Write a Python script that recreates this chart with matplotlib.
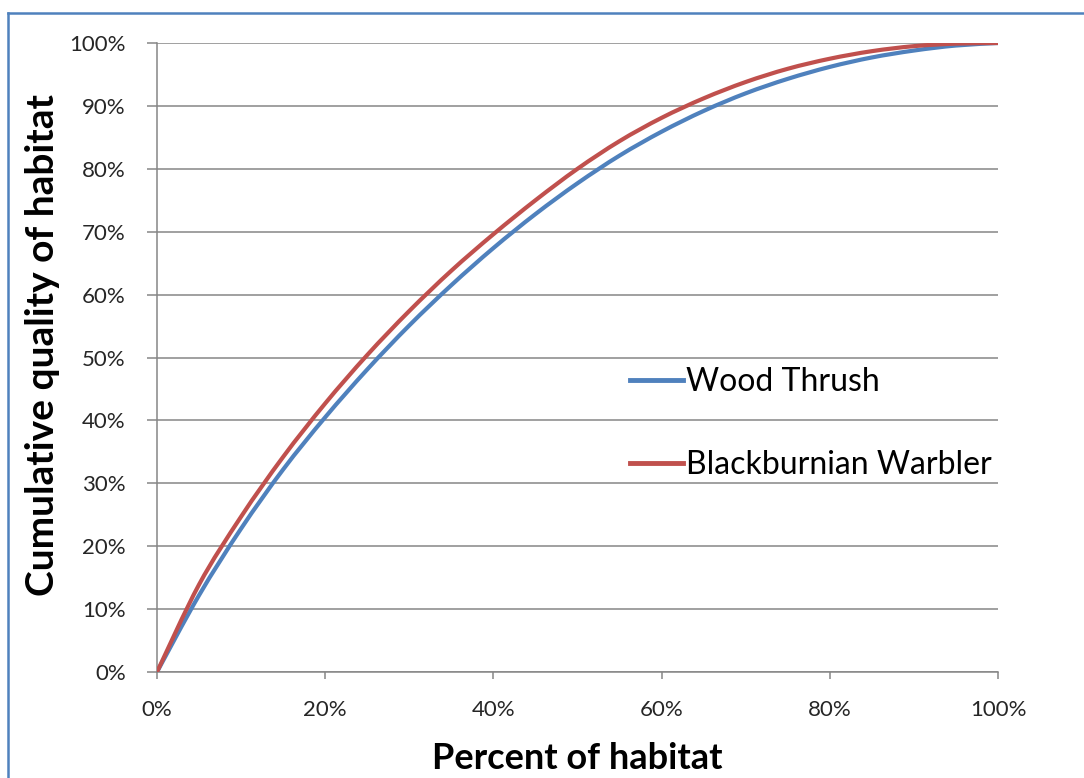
import numpy as np
import matplotlib.pyplot as plt
from matplotlib.lines import Line2D
from matplotlib.path import Path
from matplotlib.patches import PathPatch
from matplotlib.ticker import PercentFormatter

plt.rcParams['font.family'] = ['Lato', 'DejaVu Sans']

# percent of habitat (x) and cumulative habitat quality (y), in %
habitat = [0, 5, 10, 15, 20, 25, 30, 35, 40, 45, 50,
           55, 60, 65, 70, 75, 80, 85, 90, 95, 100]
wood_thrush = [0, 12.2, 22.8, 32.2, 40.5, 48.1, 55.1, 61.5, 67.4, 72.8, 77.7,
               82.1, 85.9, 89.2, 92.0, 94.3, 96.2, 97.7, 98.8, 99.6, 100]
blackburnian = [0, 13.9, 24.7, 34.2, 42.7, 50.4, 57.4, 63.8, 69.6, 75.0, 80.0,
                84.4, 88.1, 91.2, 93.8, 95.9, 97.5, 98.7, 99.5, 99.9, 100]

x_ticks = [0, 20, 40, 60, 80, 100]
y_ticks = [0, 10, 20, 30, 40, 50, 60, 70, 80, 90, 100]

grey = '#868686'
blue = '#4F81BD'
red = '#C0504D'


def smooth_path(x, y):
    # smoothed line through the points (Catmull-Rom turned into cubic Beziers)
    p = np.column_stack([x, y]).astype(float)
    verts = [p[0]]
    codes = [Path.MOVETO]
    for i in range(len(p) - 1):
        p0 = p[i - 1] if i > 0 else p[i]
        p3 = p[i + 2] if i + 2 < len(p) else p[i + 1]
        c1 = p[i] + (p[i + 1] - p0) / 6
        c2 = p[i + 1] - (p3 - p[i]) / 6
        verts += [c1, c2, p[i + 1]]
        codes += [Path.CURVE4] * 3
    return Path(verts, codes)


fig = plt.figure(figsize=(10.84, 7.78), dpi=100)
ax = fig.add_axes([157/1084, 1 - 672/778, 841/1084, 629/778])

for ys, col, z in [(wood_thrush, blue, 3), (blackburnian, red, 4)]:
    ax.add_patch(PathPatch(smooth_path(habitat, ys), fill=False, edgecolor=col,
                           lw=3, capstyle='butt', zorder=z))

ax.set_xlim(0, 100)
ax.set_ylim(0, 100)
ax.set_xticks(x_ticks)
ax.set_yticks(y_ticks)
ax.xaxis.set_major_formatter(PercentFormatter(decimals=0))
ax.yaxis.set_major_formatter(PercentFormatter(decimals=0))
ax.grid(axis='y', color=grey, lw=1.1)
ax.set_axisbelow(True)

for side in ['top', 'right']:
    ax.spines[side].set_visible(False)
for side in ['left', 'bottom']:
    ax.spines[side].set_color(grey)
    ax.spines[side].set_linewidth(1.1)

ax.tick_params(axis='y', direction='out', length=7, width=1.1, color=grey,
               labelsize=16, pad=15.5, labelcolor='#262626')
ax.tick_params(axis='x', direction='out', length=5, width=1.1, color=grey,
               labelsize=16, pad=15, labelcolor='#262626')

ax.set_xlabel('Percent of habitat', fontsize=26, fontweight='bold', labelpad=16)
ax.set_ylabel('Cumulative quality of habitat', fontsize=28, fontweight='bold')
ax.yaxis.set_label_coords(-0.1153, 0.52)

handles = [Line2D([], [], color=blue, lw=3.5), Line2D([], [], color=red, lw=3.5)]
ax.legend(handles, ['Wood Thrush', 'Blackburnian Warbler'], loc='upper left',
          bbox_to_anchor=(630/1084, 1 - 367/778), bbox_transform=fig.transFigure,
          frameon=False, fontsize=23, handlelength=1.66, handletextpad=0.08,
          labelspacing=1.67, borderpad=0, borderaxespad=0)

# chart frame
fig.add_artist(Line2D([8/1084, 1], [1 - 13/778, 1 - 13/778], color=blue, lw=1.8))
fig.add_artist(Line2D([8/1084, 8/1084], [0, 1 - 13/778], color=blue, lw=1.8))

fig.savefig('out.png', dpi=100)
